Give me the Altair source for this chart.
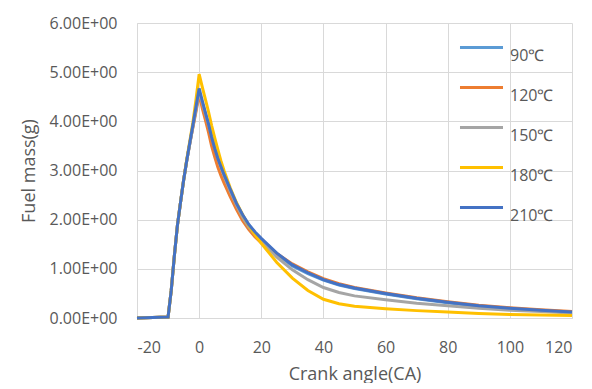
import altair as alt
import pandas as pd

crank = [-20, -10, -9, -8, -7, -6, -5, -4, -3, -2, -1, 0, 1, 2, 3, 4, 5, 6, 7, 8,
         10, 12, 14, 16, 18, 20, 25, 30, 35, 40, 45, 50, 60, 70, 80, 90, 100, 110, 120]

t90 = [0, 0.02, 0.55, 1.25, 1.88, 2.35, 2.8, 3.2, 3.55, 3.9, 4.25, 4.6, 4.38, 4.15, 3.93, 3.68, 3.45, 3.25, 3.07, 2.9,
       2.6, 2.32, 2.08, 1.89, 1.73, 1.6, 1.3, 1.06, 0.9, 0.77, 0.67, 0.6, 0.49, 0.39, 0.31, 0.24, 0.19, 0.15, 0.11]
t120 = [0, 0.02, 0.55, 1.25, 1.88, 2.35, 2.8, 3.2, 3.55, 3.88, 4.2, 4.55, 4.27, 4.03, 3.78, 3.5, 3.28, 3.07, 2.9, 2.75,
        2.47, 2.21, 1.98, 1.8, 1.65, 1.53, 1.31, 1.1, 0.94, 0.8, 0.7, 0.62, 0.51, 0.41, 0.33, 0.26, 0.21, 0.17, 0.13]
t150 = [0, 0.02, 0.55, 1.25, 1.88, 2.35, 2.8, 3.2, 3.55, 3.9, 4.25, 4.6, 4.38, 4.15, 3.93, 3.7, 3.47, 3.27, 3.08, 2.9,
        2.58, 2.3, 2.05, 1.85, 1.7, 1.56, 1.24, 0.98, 0.78, 0.62, 0.52, 0.45, 0.37, 0.3, 0.25, 0.2, 0.16, 0.13, 0.1]
t180 = [0, 0.02, 0.55, 1.25, 1.88, 2.35, 2.8, 3.22, 3.6, 3.98, 4.45, 4.96, 4.7, 4.45, 4.2, 3.92, 3.67, 3.43, 3.2, 3.0,
        2.65, 2.35, 2.1, 1.88, 1.69, 1.52, 1.13, 0.81, 0.56, 0.38, 0.29, 0.24, 0.19, 0.15, 0.12, 0.09, 0.07, 0.06, 0.05]
t210 = [0, 0.02, 0.55, 1.25, 1.88, 2.35, 2.8, 3.2, 3.57, 3.93, 4.3, 4.67, 4.42, 4.18, 3.95, 3.68, 3.45, 3.25, 3.08, 2.92,
        2.62, 2.33, 2.1, 1.9, 1.75, 1.62, 1.32, 1.08, 0.92, 0.78, 0.68, 0.61, 0.5, 0.4, 0.32, 0.25, 0.2, 0.16, 0.12]

series_names = ["90℃", "120℃", "150℃", "180℃", "210℃"]
series_values = [t90, t120, t150, t180, t210]
series_colors = ["#5B9BD5", "#ED7D31", "#A5A5A5", "#FFC000", "#4472C4"]

x_ticks = [-20, 0, 20, 40, 60, 80, 100, 120]
y_ticks = [0, 1, 2, 3, 4, 5, 6]

rows = []
for i, (name, vals) in enumerate(zip(series_names, series_values)):
    for xv, yv in zip(crank, vals):
        rows.append({"crank": xv, "mass": yv, "series": name, "order": i})
df = pd.DataFrame(rows)

FONT = "Open Sans"
TXT = "#595959"
GRID = "#D9D9D9"

chart = alt.Chart(df).mark_line(strokeWidth=3).encode(
    x=alt.X("crank:Q",
            scale=alt.Scale(domain=[-20, 120], nice=False, zero=False),
            axis=alt.Axis(values=x_ticks, title="Crank angle(CA)",
                          labelExpr="datum.value + ''",
                          labelPadding=21, titlePadding=10)),
    y=alt.Y("mass:Q",
            scale=alt.Scale(domain=[0, 6], nice=False),
            axis=alt.Axis(values=y_ticks, title="Fuel mass(g)",
                          labelExpr="format(datum.value, '.2f') + 'E+00'",
                          labelPadding=20, titlePadding=11)),
    color=alt.Color("series:N",
                    scale=alt.Scale(domain=series_names, range=series_colors),
                    legend=alt.Legend(title=None, orient="none", legendX=321, legendY=1,
                                      symbolType="stroke", symbolSize=1850, symbolStrokeWidth=3,
                                      labelFontSize=16, labelFont=FONT, labelColor=TXT,
                                      labelBaseline="top", labelOffset=5, rowPadding=0)),
    order=alt.Order("order:Q"),
    detail="series:N",
).properties(
    width=435, height=295,
    padding={"left": 12, "top": 7, "right": 0, "bottom": 0},
).configure_axis(
    grid=True, gridColor=GRID, gridWidth=1,
    domainColor=GRID, domainWidth=1, ticks=False,
    labelFont=FONT, labelFontSize=16, labelColor=TXT,
    titleFont=FONT, titleFontSize=18, titleColor=TXT, titleFontWeight="normal",
).configure_view(stroke=None)

chart.save("out.html", embed_options={"renderer": "svg", "actions": False})
